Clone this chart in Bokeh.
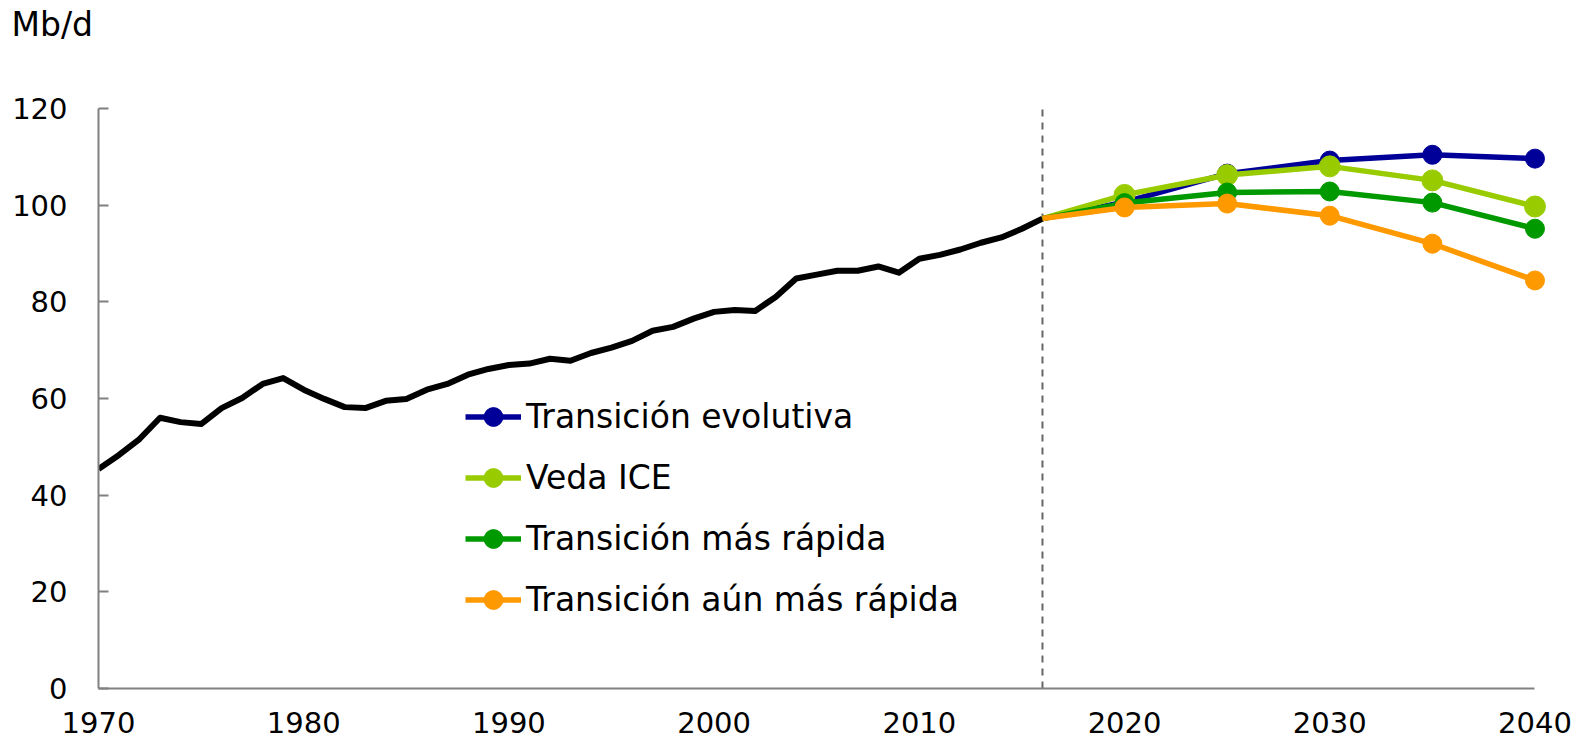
from bokeh.plotting import figure
from bokeh.models import Legend, LegendItem, FixedTicker
from bokeh.embed import file_html
from bokeh.resources import INLINE

# ---- data ----
hist_years = list(range(1970, 2017))
hist_values = [45.4, 48.3, 51.6, 56.0, 55.1, 54.7, 58.0, 60.1, 63.0, 64.2,
               61.8, 59.9, 58.2, 58.0, 59.5, 59.9, 61.8, 63.0, 64.9, 66.1,
               66.9, 67.2, 68.2, 67.8, 69.4, 70.5, 71.9, 74.0, 74.8, 76.5,
               77.9, 78.3, 78.1, 81.0, 84.8, 85.6, 86.4, 86.4, 87.3, 86.0,
               88.9, 89.7, 90.8, 92.2, 93.3, 95.1, 97.2]

proj_years = [2016, 2020, 2025, 2030, 2035, 2040]
evolving = [97.2, 100.6, 106.5, 109.2, 110.4, 109.6]
ice_ban = [97.2, 102.1, 106.2, 108.0, 105.1, 99.7]
faster = [97.2, 100.4, 102.6, 102.8, 100.5, 95.1]
even_faster = [97.2, 99.5, 100.3, 97.8, 92.0, 84.4]

series_names = ["Transición evolutiva", "Veda ICE",
                "Transición más rápida", "Transición aún más rápida"]
series_values = [evolving, ice_ban, faster, even_faster]
series_colors = ["#000099", "#99CC00", "#009900", "#FF9900"]
marker_sizes = [19, 21, 19, 19]

y_ticks = [0, 20, 40, 60, 80, 100, 120]
x_ticks = [1970, 1980, 1990, 2000, 2010, 2020, 2030, 2040]
divider_year = 2016
unit_label = "Mb/d"

FONT = "DejaVu Sans"

# frame spans a little above the last tick so that the unit title sits at the top
p = figure(width=1575, height=748, output_backend="svg", toolbar_location=None,
           x_range=(1970, 2041), y_range=(0, 133.0),
           min_border_left=98, min_border_right=20,
           min_border_top=45, min_border_bottom=60)
p.outline_line_color = None
p.grid.grid_line_color = None
p.background_fill_color = "white"

p.title.text = unit_label
p.title.align = "left"
p.title.vertical_align = "bottom"
p.title.offset = -87
p.title.standoff = 4
p.title.text_font = FONT
p.title.text_font_size = "33px"
p.title.text_font_style = "normal"
p.title.text_color = "black"

# axes
for ax in (p.xaxis[0], p.yaxis[0]):
    ax.axis_line_color = "#808080"
    ax.axis_line_width = 2
    ax.major_tick_line_color = "#808080"
    ax.major_tick_line_width = 2
    ax.minor_tick_line_color = None
    ax.major_label_text_font = FONT
    ax.major_label_text_font_size = "29px"
    ax.major_label_text_color = "black"

p.xaxis.ticker = FixedTicker(ticks=x_ticks)
p.xaxis.bounds = (x_ticks[0], x_ticks[-1])
p.xaxis.major_tick_in = 0
p.xaxis.major_tick_out = 0
p.xaxis.major_label_standoff = 23

p.yaxis.ticker = FixedTicker(ticks=y_ticks)
p.yaxis.bounds = (y_ticks[0], y_ticks[-1])
p.yaxis.major_tick_in = 10
p.yaxis.major_tick_out = 0
p.yaxis.major_label_standoff = 31

# divider between history and projections
p.segment(x0=[divider_year], y0=[y_ticks[0]], x1=[divider_year], y1=[y_ticks[-1]],
          line_color="#666666", line_width=2, line_dash="7 6")

# history
p.line(hist_years, hist_values, line_color="black", line_width=6, line_join="round")

# projections
items = []
for name, vals, col, ms in zip(series_names, series_values, series_colors, marker_sizes):
    lr = p.line(proj_years, vals, line_color=col, line_width=5.5, line_join="round")
    sr = p.scatter(proj_years[1:], vals[1:], size=ms, fill_color=col, line_color=col)
    items.append(LegendItem(label=name, renderers=[lr, sr]))

legend = Legend(items=items, location=(367, 65), orientation="vertical",
                glyph_width=56, glyph_height=47, label_height=47, spacing=14,
                label_standoff=5, padding=0, margin=0,
                border_line_color=None, background_fill_alpha=0,
                label_text_font=FONT, label_text_font_size="33px",
                label_text_color="black")
p.add_layout(legend, "center")

open("out.html", "w").write(file_html(p, INLINE))
